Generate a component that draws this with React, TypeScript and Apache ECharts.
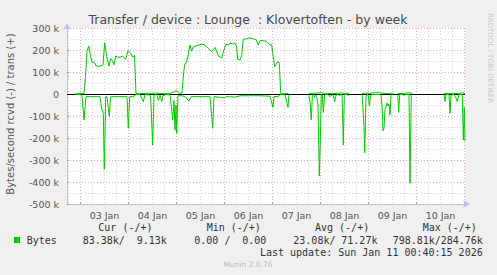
import { useEffect, useRef } from "react";
import * as echarts from "echarts";

// ---- texts ----
const TITLE = "Transfer / device : Lounge\u00a0\u00a0: Klovertoften - by week";
const Y_NAME = "Bytes/second rcvd (-) / trans (+)";
const SIDE_TEXT = "RRDTOOL / TOBI OETIKER";
const DAY_LABELS = ["03 Jan", "04 Jan", "05 Jan", "06 Jan", "07 Jan", "08 Jan", "09 Jan", "10 Jan"];
const LEGEND_HEADERS = ["Cur (-/+)", "Min (-/+)", "Avg (-/+)", "Max (-/+)"];
const LEGEND_NAME = "Bytes";
const LEGEND_VALUES = [
  ["83.38k/", "9.13k"],
  ["0.00 /", "0.00"],
  ["23.08k/", "71.27k"],
  ["798.81k/", "284.76k"],
];
const LAST_UPDATE = "Last update: Sun Jan 11 00:40:15 2026";
const VERSION = "Munin 2.0.76";

// ---- axes (hours since 03 Jan 00:00, values in k) ----
const X_START = -6.75;
const X_END = 192.25;
const Y_MIN = -500;
const Y_MAX = 300;
const Y_STEP = 100;

// ---- series: [hour, kB/s] ; null = no data ----
const trans: [number, number | null][] = [
  [-2.75, 1], [-0.25, 2], [1.75, 3], [2.5, 80], [3.25, 195], [4.1, 218], [5, 175], [5.75, 145],
  [7.25, 140], [7.75, 127], [9.75, 126], [11.25, 133], [12.1, 233], [13.1, 170], [14.25, 127],
  [15.1, 160], [15.9, 153], [16.75, 133], [17.6, 172], [19.25, 166], [20.9, 172], [22.6, 158],
  [23.75, 197], [25.1, 185], [26.1, 167], [27, 175], [27.75, 2], [29.75, 2], [34.75, 3], [37.25, 4],
  [39.75, 2], [44.75, 2], [47.25, 12], [48.25, 15], [49.25, 3], [50.75, 4], [51.6, 101], [52.25, 139],
  [53, 142], [54.75, 223], [55.6, 195], [56.4, 216], [58.25, 220], [60.6, 227], [62.25, 222],
  [63.9, 207], [65.6, 192], [67.25, 212], [68.9, 173], [70.6, 164], [71.4, 190], [72.75, 227],
  [73.9, 222], [74.75, 232], [76.4, 227], [77.25, 232], [78.1, 214], [78.6, 158], [79.75, 155],
  [80.6, 175], [81.4, 249], [83.1, 251], [84.75, 255], [86.4, 251], [87.75, 248], [88.9, 223],
  [89.75, 243], [91.4, 243], [93.1, 239], [94.75, 223], [95.6, 224], [96.25, 177], [97.1, 124],
  [97.9, 136], [98.75, 148], [99.4, 140], [100.1, 2], [102.25, 2], [104, 2], [104.5, null],
  [114.1, 1], [115.75, 3], [118.75, 4], [120.25, 6], [122.25, 3], [124.75, 2], [128.75, 3],
  [130.25, 5], [132.25, 2], [134.4, 2], [135, null],
  [140.75, 2], [142.75, 4], [144.75, 3], [147.25, 6], [149.25, 6], [152.25, 2], [155.75, 3],
  [156.4, 2], [157, null],
  [158.6, 2], [160.25, 2], [162, 2], [164.25, 6], [165.9, 2], [166.5, null],
  [181.75, 2], [184.75, 2], [186.75, 3], [189.25, 2], [190.9, 6], [192.25, 2],
];

const rcvd: [number, number | null][] = [
  [-2.75, -1], [-0.25, -3], [0.75, -5], [1.75, -118], [2.75, -12], [7.25, -12], [9.75, -12],
  [10.6, -65], [11.4, -88], [11.9, -342], [12.6, -12], [13.25, -14], [14.4, -103], [15, -13],
  [17.25, -12], [19.75, -12], [23.25, -12], [23.9, -156], [24.6, -13], [26.75, -10], [27.75, -3],
  [29.75, -2], [31.4, -35], [32.25, -3], [34.75, -4], [35.1, -20], [36.1, -232], [36.75, -5],
  [38.25, -2], [38.9, -30], [39.75, -5], [40.6, -35], [41.25, -8], [42.75, -2], [44.75, -4],
  [45.6, -70], [46.1, -118], [46.75, -30], [47.25, -164], [47.75, -50], [48.1, -180], [48.75, -8],
  [50.75, -8], [52.25, -12], [54.25, -32], [55.25, -12], [59.75, -12], [64.75, -12], [66.1, -156],
  [66.75, -12], [69.75, -15], [72.25, -18], [72.75, -12], [77.25, -14], [79.75, -8], [84.75, -8],
  [89.75, -8], [94.75, -10], [96.25, -61], [96.75, -12], [99.25, -10], [100.1, -2], [102.25, -4],
  [103.75, -61], [104.25, -2], [104.75, null],
  [114.1, -2], [114.75, -35], [115.4, -118], [115.9, -12], [116.4, -2], [117, -15], [117.6, -4],
  [118.1, -12], [118.75, -50], [119.4, -373], [119.9, -220], [120.4, -2], [120.9, -4], [121.4, -84],
  [122.1, -4], [123, -2], [123.75, -2], [124.6, -12], [125.25, -8], [126.25, -2], [127.1, -35],
  [127.75, -5], [128.75, -2], [129.5, -8], [130.25, -2], [130.75, -4], [131.1, -118], [131.4, -232],
  [131.9, -2], [132.75, -2], [133.6, -5], [134.4, -5], [135, null],
  [140.75, -2], [141.1, -40], [141.75, -148], [142.1, -267], [142.75, -12], [143.25, -2], [143.9, -5],
  [144.4, -54], [145.1, -5], [146, -2], [146.9, -2], [147.75, -2], [149.4, -2], [150.25, -5],
  [150.75, -54], [151.25, -167], [151.75, -157], [152.25, -70], [152.75, -60], [153.25, -40],
  [153.75, -54], [154.25, -45], [154.75, -97], [155.25, -2], [155.75, -2], [156.4, -5], [157, null],
  [158.6, -2], [159.1, -84], [159.6, -2], [160.25, -2], [162, -5], [162.6, -2], [164.25, -2],
  [164.75, -406], [165.4, -5], [165.9, -2], [166.5, null],
  [181.75, -2], [182.25, -35], [182.75, -2], [184.25, -2], [184.75, -88], [185.25, -5], [186.75, -2],
  [187.6, -15], [188.4, -35], [189.25, -2], [190.9, -2], [191.4, -209], [191.9, -61], [192.25, -214],
];

const GREEN = "#00cc00";
const RED_GRID = "#e8a8a8";
const GREY_GRID = "#d4d4d4";
const AXIS_COLOR = "#c0c0f0";
const TEXT_COLOR = "#555555";
const MONO = "DejaVu Sans Mono";
const SANS = "DejaVu Sans";

export default function App() {
  const ref = useRef<HTMLDivElement>(null);

  useEffect(() => {
    if (!ref.current) return;
    const chart = echarts.init(ref.current, undefined, { renderer: "svg" });

    // quarter-hour slots for the grid / label axis
    const slots: string[] = [];
    for (let h = X_START; h <= X_END + 1e-9; h += 0.25) slots.push(String(h));
    const hourOf = (i: number) => X_START + 0.25 * i;
    const isMidnight = (i: number) => Math.abs(hourOf(i) % 24) < 1e-9;
    const isNoon = (i: number) => Math.abs(((hourOf(i) % 24) + 24) % 24 - 12) < 1e-9;
    const isSixH = (i: number) => {
      const h = hourOf(i);
      return Math.abs(h % 6) < 1e-9 && !isMidnight(i);
    };

    const toData = (arr: [number, number | null][]) =>
      arr.map(([h, v]) => [h, v === null ? "-" : v]);

    const px = (s: number) => `${s}px ${MONO}`;
    const legendGraphics: any[] = [];
    const headerX = [98.3, 206.7, 315, 422.7];
    LEGEND_HEADERS.forEach((t, i) =>
      legendGraphics.push({
        type: "text", x: headerX[i], y: 227.5,
        style: { text: t, font: px(10), fill: "#333", textAlign: "left", verticalAlign: "middle" },
      })
    );
    const valX = [
      [82.7, 136.7],
      [194.3, 242.3],
      [293.3, 341.3],
      [392.7, 440.7],
    ];
    LEGEND_VALUES.forEach((pair, i) =>
      pair.forEach((t, j) =>
        legendGraphics.push({
          type: "text", x: valX[i][j], y: 240,
          style: { text: t, font: px(10), fill: "#333", textAlign: "left", verticalAlign: "middle" },
        })
      )
    );

    chart.setOption({
      animation: false,
      backgroundColor: "#f0f0f0",
      grid: {
        left: 67, right: 32, top: 28, bottom: 71,
        show: true, backgroundColor: "#ffffff", borderWidth: 0,
      },
      xAxis: [
        { type: "value", min: X_START, max: X_END, show: false },
        {
          type: "category", data: slots, boundaryGap: false, position: "bottom",
          axisLine: {
            show: true, onZero: false, lineStyle: { color: AXIS_COLOR, width: 1 },
            symbol: ["none", "arrow"], symbolSize: [6, 7], symbolOffset: [0, 5],
          },
          axisTick: { show: true, inside: true, length: 2, interval: (i: number) => isMidnight(i), lineStyle: { color: "#e08080" } },
          axisLabel: {
            interval: (i: number) => isNoon(i),
            formatter: (v: string) => DAY_LABELS[Math.floor(Number(v) / 24)] ?? "",
            color: TEXT_COLOR, fontSize: 9.5, fontFamily: SANS, margin: 6,
          },
          splitLine: { show: true, interval: (i: number) => isMidnight(i), lineStyle: { color: RED_GRID, type: [1, 2], width: 1 } },
        },
        {
          type: "category", data: slots, boundaryGap: false, position: "top",
          axisLine: { show: false }, axisTick: { show: false }, axisLabel: { show: false },
          splitLine: { show: true, interval: (i: number) => isSixH(i), lineStyle: { color: GREY_GRID, type: [1, 2], width: 1 } },
        },
      ],
      yAxis: {
        type: "value", min: Y_MIN, max: Y_MAX, interval: Y_STEP,
        axisLine: {
          show: true, onZero: false, lineStyle: { color: AXIS_COLOR, width: 1 },
          symbol: ["none", "arrow"], symbolSize: [6, 7], symbolOffset: [0, 5],
        },
        axisTick: { show: true, inside: true, length: 2, lineStyle: { color: "#e08080" } },
        axisLabel: {
          formatter: (v: number) => (v === 0 ? "0" : `${v} k`),
          color: TEXT_COLOR, fontSize: 9.5, fontFamily: SANS, margin: 8,
        },
        splitLine: { show: true, lineStyle: { color: RED_GRID, type: [1, 2], width: 1 } },
        minorTick: { show: false, splitNumber: 2 },
        minorSplitLine: { show: true, lineStyle: { color: GREY_GRID, type: [1, 2], width: 1 } },
      },
      series: [
        {
          name: "trans", type: "line", xAxisIndex: 0, data: toData(trans),
          symbol: "none", showSymbol: false, connectNulls: false,
          lineStyle: { color: GREEN, width: 1 }, z: 3,
        },
        {
          name: "rcvd", type: "line", xAxisIndex: 0, data: toData(rcvd),
          symbol: "none", showSymbol: false, connectNulls: false,
          lineStyle: { color: GREEN, width: 1 }, z: 3,
          markLine: {
            silent: true, symbol: "none", label: { show: false },
            lineStyle: { color: "#000000", width: 1, type: "solid" },
            data: [{ yAxis: 0 }], z: 2,
          },
        },
      ],
      graphic: [
        {
          type: "text", x: 248, y: 19,
          style: { text: TITLE, font: `12.5px ${SANS}`, fill: "#4a4a4a", textAlign: "center", verticalAlign: "middle" },
        },
        {
          type: "text", x: 10, y: 114, rotation: Math.PI / 2,
          style: { text: Y_NAME, font: `10px ${SANS}`, fill: TEXT_COLOR, textAlign: "center", verticalAlign: "middle" },
        },
        {
          type: "text", x: 490, y: 58, rotation: -Math.PI / 2,
          style: { text: SIDE_TEXT, font: `7px ${SANS}`, fill: "#c8c8c8", textAlign: "center", verticalAlign: "middle" },
        },
        ...legendGraphics,
        { type: "rect", shape: { x: 14, y: 237, width: 6, height: 6 }, style: { fill: GREEN } },
        {
          type: "text", x: 26.7, y: 240,
          style: { text: LEGEND_NAME, font: px(10), fill: "#333", textAlign: "left", verticalAlign: "middle" },
        },
        {
          type: "text", x: 482.7, y: 252,
          style: { text: LAST_UPDATE, font: px(10), fill: "#333", textAlign: "right", verticalAlign: "middle" },
        },
        {
          type: "text", x: 248, y: 264,
          style: { text: VERSION, font: `7.5px ${SANS}`, fill: "#bbbbbb", textAlign: "center", verticalAlign: "middle" },
        },
      ],
    });

    return () => chart.dispose();
  }, []);

  return (
    <div
      ref={ref}
      style={{ position: "absolute", left: 0, top: 0, width: 497, height: 275 }}
    />
  );
}
